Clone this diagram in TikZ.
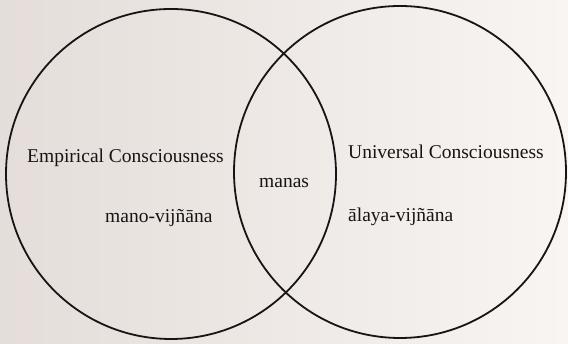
\documentclass[tikz,border=0pt]{standalone}
\usepackage{fontspec}
\setmainfont{Liberation Serif}
\usetikzlibrary{positioning}
\definecolor{paperleft}{RGB}{228,221,217}
\definecolor{paperright}{RGB}{248,245,242}
\definecolor{inkline}{RGB}{24,20,20}
\begin{document}
\begin{tikzpicture}[x=1pt, y=1pt,
    venn/.style={circle, draw=inkline, line width=1.8pt, inner sep=0pt},
    label/.style={inner sep=0pt, anchor=base west, text=inkline, font=\fontsize{19.5}{23}\selectfont}]
    % Nền giấy
    \useasboundingbox (0,0) rectangle (568,344);
    \shade[left color=paperleft, right color=paperright] (0,0) rectangle (568,344);

    % Hai vòng tròn
    \node[venn, minimum size=330pt] (empirical) at (171,170) {};
    \node[venn, minimum size=332pt] (universal) at (400,172) {};

    % Các nhãn
    \node[label] (emp) at (27,181) {Empirical Consciousness};
    \node[label] (mano) at (105,121) {mano-vijñāna};
    \node[label] (manas) at (259,156) {manas};
    \node[label] (uni) at (348,185) {Universal Consciousness};
    \node[label] (alaya) at (348,122) {ālaya-vijñāna};
\end{tikzpicture}
\end{document}
